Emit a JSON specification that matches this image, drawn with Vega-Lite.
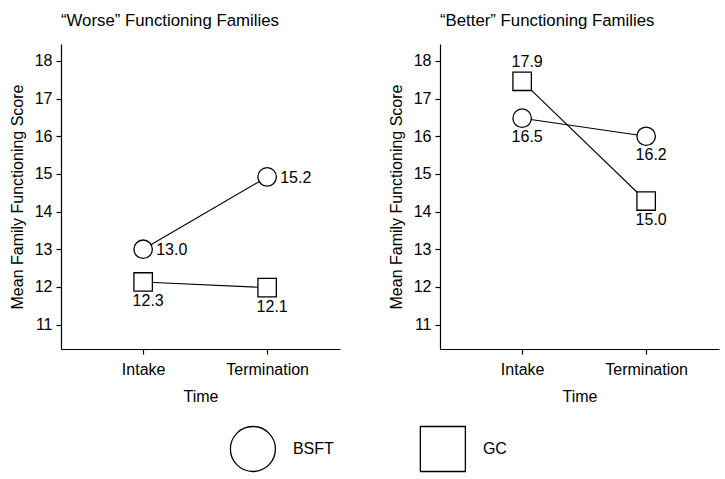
{
  "$schema": "https://vega.github.io/schema/vega-lite/v6.json",
  "padding": {"left": 9, "top": 13, "right": 5, "bottom": 5},
  "background": "white",
  "config": {
    "font": "Liberation Sans",
    "view": {"stroke": null},
    "axis": {"domainColor": "black", "tickColor": "black", "labelColor": "black", "titleColor": "black", "grid": false, "labelFont": "Liberation Sans", "titleFont": "Liberation Sans", "labelFontSize": 16, "titleFontSize": 16, "titleFontWeight": "normal", "tickSize": 5, "domainWidth": 1.2, "tickWidth": 1.2},
    "header": {"labelFont": "Liberation Sans", "labelFontSize": 16.8, "labelColor": "black"}
  },
  "datasets": {
    "scores": [
      {"panel": "“Worse” Functioning Families", "group": "BSFT", "time": "Intake", "score": 13.0, "label": "13.0"},
      {"panel": "“Worse” Functioning Families", "group": "BSFT", "time": "Termination", "score": 14.92, "label": "15.2"},
      {"panel": "“Worse” Functioning Families", "group": "GC", "time": "Intake", "score": 12.13, "label": "12.3"},
      {"panel": "“Worse” Functioning Families", "group": "GC", "time": "Termination", "score": 11.98, "label": "12.1"},
      {"panel": "“Better” Functioning Families", "group": "BSFT", "time": "Intake", "score": 16.48, "label": "16.5"},
      {"panel": "“Better” Functioning Families", "group": "BSFT", "time": "Termination", "score": 16.0, "label": "16.2"},
      {"panel": "“Better” Functioning Families", "group": "GC", "time": "Intake", "score": 17.46, "label": "17.9"},
      {"panel": "“Better” Functioning Families", "group": "GC", "time": "Termination", "score": 14.28, "label": "15.0"}
    ],
    "groups": [
      {"group": "BSFT"},
      {"group": "GC"}
    ]
  },
  "vconcat": [
    {
      "data": {"name": "scores"},
      "facet": {
        "column": {
          "field": "panel", "type": "nominal",
          "sort": ["“Worse” Functioning Families", "“Better” Functioning Families"],
          "header": {"title": null, "labelAnchor": "start", "labelOrient": "top", "labelPadding": 14, "labelFontSize": 16.8, "labelAlign": "left", "labelExpr": "'\u00a0' + datum.label"}
        }
      },
      "spacing": 48,
      "resolve": {"axis": {"y": "independent", "x": "independent"}},
      "spec": {
        "width": 279,
        "height": 305,
        "encoding": {
          "x": {"field": "time", "type": "nominal", "sort": ["Intake", "Termination"],
            "scale": {"type": "point", "padding": 0.625, "align": 0.53},
            "axis": {"title": "Time", "labelAngle": 0, "labelPadding": 7, "titlePadding": 11}},
          "y": {"field": "score", "type": "quantitative",
            "scale": {"domain": [10.35, 18.45], "nice": false, "zero": false},
            "axis": {"title": "Mean Family Functioning Score", "values": [11, 12, 13, 14, 15, 16, 17, 18], "labelPadding": 4, "titlePadding": 9}}
        },
        "layer": [
          {"mark": {"type": "line", "color": "black", "strokeWidth": 1.1}, "encoding": {"detail": {"field": "group"}}},
          {"mark": {"type": "point", "filled": true, "fill": "white", "stroke": "black", "strokeWidth": 1.3, "opacity": 1, "size": 340},
            "encoding": {
              "shape": {"field": "group", "type": "nominal", "scale": {"domain": ["BSFT", "GC"], "range": ["circle", "square"]}, "legend": null}
            }},
          {"transform": [{"filter": "datum.panel === '“Worse” Functioning Families' && datum.group === 'BSFT'"}],
            "mark": {"type": "text", "align": "left", "baseline": "middle", "dx": 13, "dy": 1, "fontSize": 16, "color": "black"},
            "encoding": {"text": {"field": "label"}}},
          {"transform": [{"filter": "datum.panel === '“Better” Functioning Families' && datum.group === 'GC' && datum.time === 'Intake'"}],
            "mark": {"type": "text", "align": "center", "baseline": "middle", "dx": 5, "dy": -19, "fontSize": 16, "color": "black"},
            "encoding": {"text": {"field": "label"}}},
          {"transform": [{"filter": "!(datum.panel === '“Worse” Functioning Families' && datum.group === 'BSFT') && !(datum.panel === '“Better” Functioning Families' && datum.group === 'GC' && datum.time === 'Intake')"}],
            "mark": {"type": "text", "align": "center", "baseline": "middle", "dx": 5, "dy": 19, "fontSize": 16, "color": "black"},
            "encoding": {"text": {"field": "label"}}}
        ]
      }
    },
    {
      "data": {"name": "groups"},
      "width": 500,
      "height": 46,
      "encoding": {
        "x": {"field": "group", "type": "nominal", "scale": {"type": "point", "domain": ["BSFT", "GC"], "padding": 0.816, "align": 0.619}, "axis": null}
      },
      "layer": [
        {"mark": {"type": "point", "filled": true, "fill": "white", "stroke": "black", "strokeWidth": 1.3, "opacity": 1, "size": 2025},
          "encoding": {"shape": {"field": "group", "type": "nominal", "scale": {"domain": ["BSFT", "GC"], "range": ["circle", "square"]}, "legend": null}}},
        {"mark": {"type": "text", "align": "left", "baseline": "middle", "dx": 40, "fontSize": 16, "color": "black"},
          "encoding": {"text": {"field": "group"}}}
      ]
    }
  ],
  "spacing": 19
}
